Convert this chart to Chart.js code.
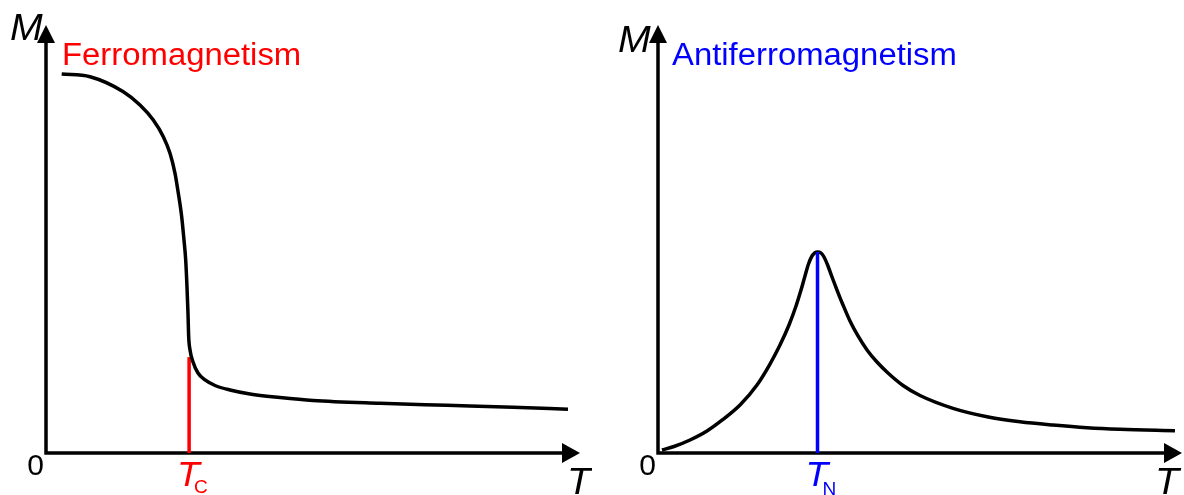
<!DOCTYPE html>
<html>
<head>
<meta charset="utf-8">
<title>Ferromagnetism vs Antiferromagnetism</title>
<script src="https://cdn.jsdelivr.net/npm/chart.js@4/dist/chart.umd.min.js"></script>
<style>
  body { margin: 0; background: #fff; }
  .panel { position: absolute; top: 0; }
  #ferro-chart { left: 0; }
  #anti-chart { left: 592px; }
</style>
</head>
<body>
<canvas id="ferro-chart" class="panel" width="592" height="495"></canvas>
<canvas id="anti-chart" class="panel" width="592" height="495"></canvas>
<script>
// magnetisation curves, temperature and M both on a 0-100 scale
const ferroT = [2.94, 8.24, 14.48, 17.60, 20.09, 21.97, 23.22, 24.16, 24.78, 25.41, 25.84, 26.16, 26.40, 26.59, 26.72,
                26.97, 27.53, 28.46, 29.78, 31.65, 34.46, 38.20, 43.82, 50.00, 62.55, 75.09, 87.45, 97.75];
const ferroM = [88.55, 87.92, 84.42, 81.31, 77.80, 73.90, 70.02, 65.35, 60.68, 55.21, 49.77, 45.09, 38.86, 32.64, 27.17,
                24.07, 21.26, 18.69, 17.06, 15.77, 14.72, 13.79, 12.97, 12.27, 11.61, 11.14, 10.68, 10.21];

const antiT = [0.76, 3.05, 6.11, 9.35, 12.40, 15.65, 18.89, 21.37, 23.28, 25.00, 26.34, 27.29, 28.05, 28.72, 29.39,
               29.96, 30.44, 31.11, 31.68, 32.44, 33.21, 34.16, 35.31, 36.64, 38.17, 39.89, 41.79, 43.89, 46.76,
               50.00, 56.30, 62.79, 69.08, 75.38, 81.87, 88.17, 98.66];
const antiM = [0.70, 1.52, 3.04, 5.14, 7.83, 11.21, 15.89, 20.79, 25.23, 29.91, 34.35, 38.08, 41.36, 44.16, 46.03,
               46.78, 46.96, 46.73, 45.79, 43.69, 41.12, 38.08, 34.58, 30.84, 27.34, 24.07, 21.26, 18.69, 15.77,
               13.43, 10.44, 8.48, 7.31, 6.54, 5.91, 5.54, 5.21];

// transition temperatures and the height of their marker lines
const curieT = 26.8;
const curieTop = 22.4;
const neelT = 30.44;
const neelTop = 46.96;

const FONT = '"Liberation Sans", Arial, sans-serif';

function toPoints(xs, ys) {
    return xs.map((x, i) => ({ x: x, y: ys[i] }));
}

function drawText(ctx, text, x, y, size, color, italic) {
    ctx.save();
    ctx.font = (italic ? 'italic ' : '') + size + 'px ' + FONT;
    ctx.fillStyle = color;
    ctx.textBaseline = 'alphabetic';
    ctx.translate(x, y);
    ctx.scale(1.06, 1);
    ctx.fillText(text, 0, 0);
    ctx.restore();
}

// axes with arrow heads, drawn under the curves
const arrowAxes = {
    id: 'arrowAxes',
    beforeDatasetsDraw(chart) {
        const ctx = chart.ctx;
        const area = chart.chartArea;
        const x0 = chart.scales.x.getPixelForValue(0);
        const y0 = chart.scales.y.getPixelForValue(0);
        ctx.save();
        ctx.strokeStyle = '#000';
        ctx.fillStyle = '#000';
        ctx.lineWidth = 3.5;
        ctx.beginPath();
        ctx.moveTo(x0, y0 + 1.5);
        ctx.lineTo(x0, area.top + 14);
        ctx.moveTo(x0 - 1.5, y0);
        ctx.lineTo(area.right - 14, y0);
        ctx.stroke();
        // y arrow
        ctx.beginPath();
        ctx.moveTo(x0, area.top);
        ctx.lineTo(x0 - 9, area.top + 18);
        ctx.lineTo(x0 + 9, area.top + 18);
        ctx.closePath();
        ctx.fill();
        // x arrow
        ctx.beginPath();
        ctx.moveTo(area.right, y0);
        ctx.lineTo(area.right - 18, y0 - 10);
        ctx.lineTo(area.right - 18, y0 + 10);
        ctx.closePath();
        ctx.fill();
        ctx.restore();
    },
    afterDraw(chart, args, opts) {
        const ctx = chart.ctx;
        const area = chart.chartArea;
        const x0 = chart.scales.x.getPixelForValue(0);
        const tx = chart.scales.x.getPixelForValue(opts.markT);
        drawText(ctx, 'M', x0 - opts.mOff, opts.mBase, 37, '#000', true);
        drawText(ctx, opts.title, opts.titleX, 65, 31, opts.color, false);
        ctx.save();
        ctx.font = '30px ' + FONT;
        ctx.fillStyle = '#000';
        ctx.textAlign = 'right';
        ctx.fillText('0', x0 - 2, 475);
        ctx.restore();
        drawText(ctx, 'T', area.right - opts.tOff, 494, 37, '#000', true);
        drawText(ctx, 'T', tx - 12, 486, 35, opts.color, true);
        drawText(ctx, opts.sub, tx + 5, opts.subBase, 18, opts.color, false);
    }
};

function makeChart(id, curve, markT, markTop, color, padding, labels, markOnTop) {
    const curveSet = {
        data: toPoints(curve[0], curve[1]),
        showLine: true,
        borderColor: '#000',
        borderWidth: 3.5,
        cubicInterpolationMode: 'monotone',
        pointRadius: 0,
        clip: false
    };
    const markSet = {
        data: [{ x: markT, y: 0 }, { x: markT, y: markTop }],
        showLine: true,
        borderColor: color,
        borderWidth: 3.5,
        pointRadius: 0,
        clip: false
    };
    // first dataset is painted last
    const datasets = markOnTop ? [markSet, curveSet] : [curveSet, markSet];
    return new Chart(document.getElementById(id), {
        type: 'scatter',
        data: { datasets: datasets },
        options: {
            responsive: false,
            animation: false,
            layout: { padding: padding },
            scales: {
                x: { type: 'linear', min: 0, max: 100, display: false },
                y: { type: 'linear', min: 0, max: 100, display: false }
            },
            plugins: {
                legend: { display: false },
                tooltip: { enabled: false },
                arrowAxes: Object.assign({ markT: markT, color: color }, labels)
            }
        },
        plugins: [arrowAxes]
    });
}

makeChart('ferro-chart', [ferroT, ferroM], curieT, curieTop, '#ff0000',
    { left: 46, right: 12, top: 25, bottom: 42 },
    { title: 'Ferromagnetism', titleX: 62, mOff: 36, mBase: 40, tOff: 13, sub: 'C', subBase: 493 },
    false);

makeChart('anti-chart', [antiT, antiM], neelT, neelTop, '#0000ff',
    { left: 66, right: 2, top: 25, bottom: 42 },
    { title: 'Antiferromagnetism', titleX: 80, mOff: 40, mBase: 52, tOff: 27, sub: 'N', subBase: 495 },
    true);
</script>
</body>
</html>
